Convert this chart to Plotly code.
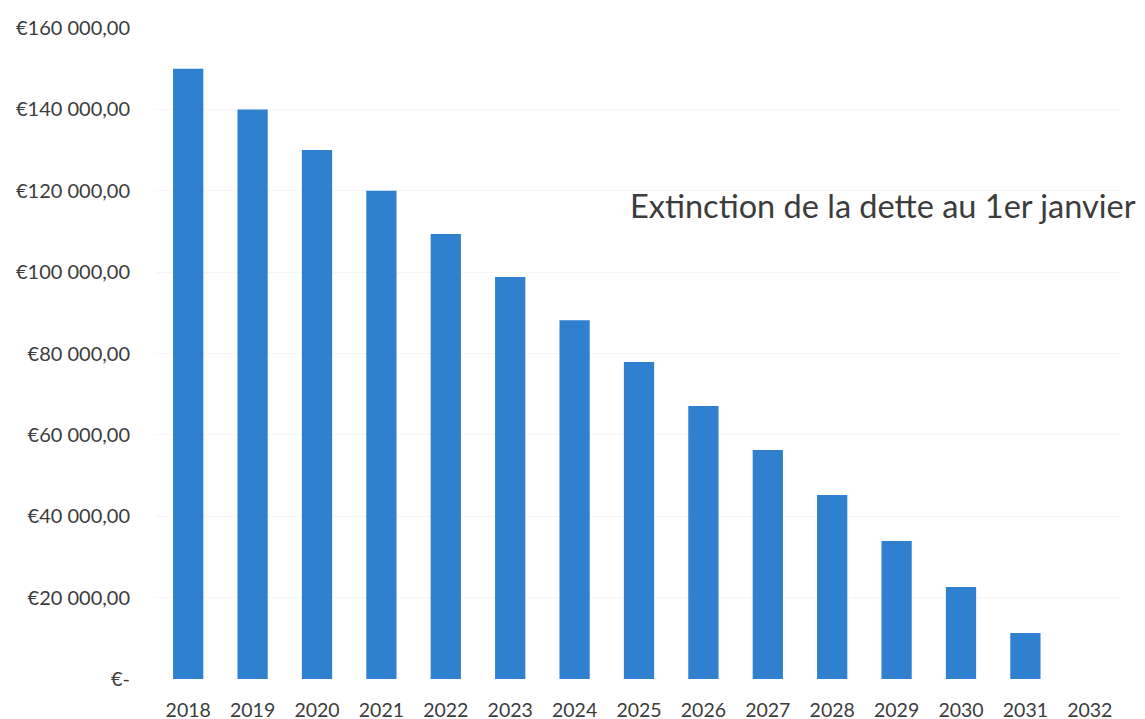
import plotly.graph_objects as go

years = ["2018", "2019", "2020", "2021", "2022", "2023", "2024", "2025",
         "2026", "2027", "2028", "2029", "2030", "2031", "2032"]
debt = [150000, 140000, 130000, 120000, 109400, 98800, 88200, 77900,
        67100, 56300, 45200, 33900, 22600, 11300, 0]

y_tickvals = [0, 20000, 40000, 60000, 80000, 100000, 120000, 140000, 160000]
y_ticktext = ["€-", "€20 000,00", "€40 000,00", "€60 000,00", "€80 000,00",
              "€100 000,00", "€120 000,00", "€140 000,00", "€160 000,00"]

title_text = "Extinction de la dette au 1er janvier"

fig = go.Figure(go.Bar(x=years, y=debt, marker=dict(color="#2F80CF", line=dict(width=0))))

fig.update_layout(
    width=1129, height=711,
    margin=dict(l=148, r=15, t=20, b=40),
    paper_bgcolor="white", plot_bgcolor="white",
    bargap=0.53,
    font=dict(family="Lato, Open Sans, sans-serif", color="#3c3c3c"),
    showlegend=False,
    annotations=[dict(
        text=title_text, xref="paper", yref="paper",
        x=0.4886, y=0.728, xanchor="left", yanchor="middle",
        showarrow=False, font=dict(size=32.5, color="#3c3c3c"))],
)
fig.update_xaxes(type="category", showgrid=False, showline=False, ticks="",
                 tickfont=dict(size=19.5), ticklabelstandoff=17, automargin=False)
fig.update_yaxes(range=[0, 160000], tickvals=y_tickvals, ticktext=y_ticktext,
                 showgrid=True, gridcolor="#f6f6f6", zeroline=False, showline=False,
                 ticks="", tickfont=dict(size=20), ticklabelstandoff=25, automargin=False)

fig.write_html("out.html")
